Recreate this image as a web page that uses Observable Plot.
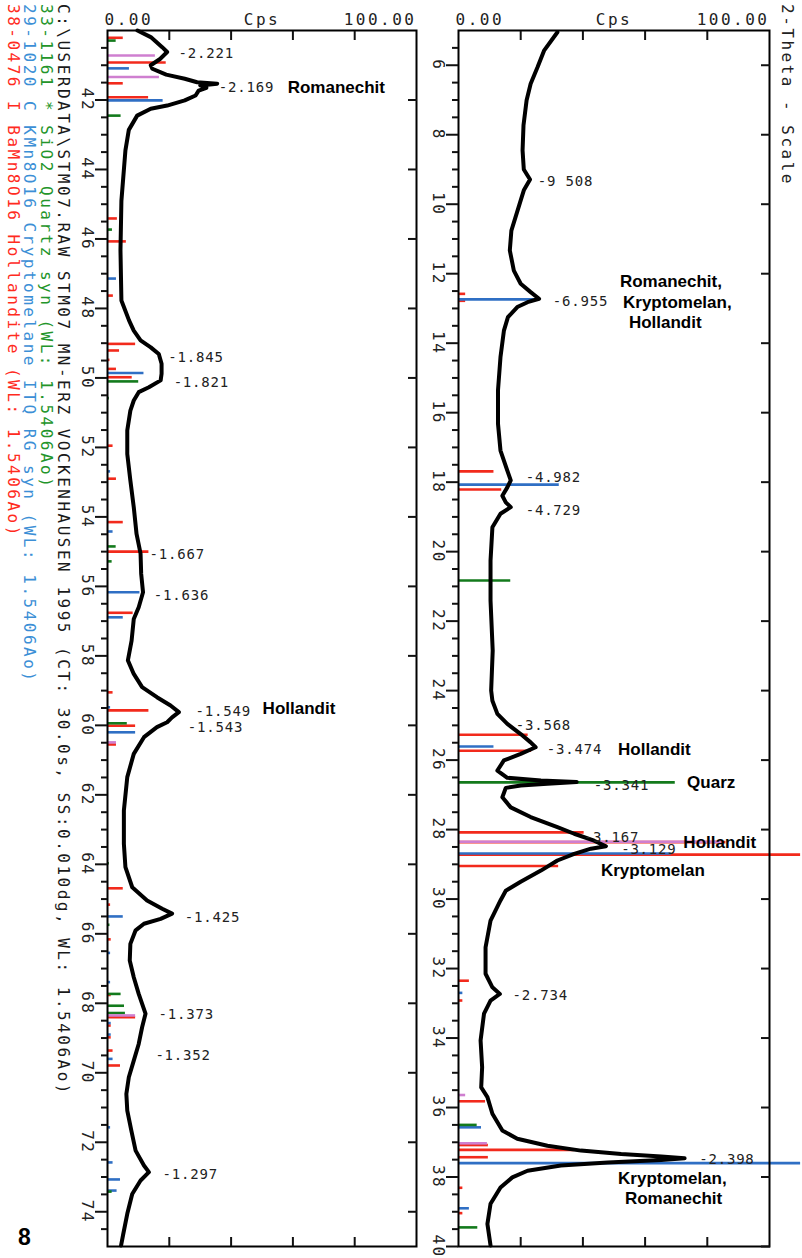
<!DOCTYPE html>
<html><head><meta charset="utf-8">
<script src="https://cdn.jsdelivr.net/npm/d3@7"></script>
<script src="https://cdn.jsdelivr.net/npm/@observablehq/plot@0.6"></script>
<style>
html,body{margin:0;padding:0;background:#fff;}
#wrap{position:relative;width:802px;height:1258px;overflow:hidden;background:#fff;}
#wrap svg text{letter-spacing:2.5px;}
#wrap g[font-size="14"] text{letter-spacing:0.8px;}
#wrap g[font-weight="bold"] text{letter-spacing:0;}
#wrap text.bold{letter-spacing:0;}
</style></head><body><div id="wrap"></div>
<script>
// ---------- diffractogram (2-Theta in degrees, intensity in Cps) ----------
const leftTheta = [40.00,40.19,40.48,40.62,40.82,41.00,41.10,41.27,41.39,41.49,41.53,41.58,41.65,41.73,41.87,42.01,42.16,42.25,42.45,42.86,43.45,44.90,46.33,47.77,48.35,48.64,48.92,49.12,49.31,49.59,49.88,50.07,50.27,50.41,50.65,50.94,51.51,52.19,52.95,53.72,54.49,55.06,55.64,56.17,56.60,56.94,57.56,58.13,58.52,58.90,59.19,59.43,59.62,59.77,59.91,60.05,60.34,60.82,61.49,62.45,63.41,64.08,64.66,65.04,65.28,65.42,65.57,65.71,65.90,66.29,66.77,67.25,67.73,68.30,68.69,69.17,69.65,70.13,70.61,71.09,71.66,72.24,72.67,72.86,73.10,73.49,74.06,74.64,74.97];
const leftCps   = [9.7,14,17.7,19.3,17,14,14.5,19,25,29,35.5,30,32,29.5,28.5,25,19.3,14,9.6,6.9,5.8,4.5,4.2,4.5,7,8.5,10.7,14,16.6,17.5,17.5,17.2,13.4,10.1,8.5,7.4,6.4,6.4,7.4,8.5,9.4,10.7,10.9,11.5,10.1,8.5,7.8,6.6,8.5,11.2,16,20.4,23.1,20.9,19.3,16,11.8,8.5,6.4,5.3,5.3,5.8,8,12.8,17.7,20.9,17.2,11.8,9.1,7.4,7.2,8.5,10.1,12.3,11.2,10.1,8.5,6.9,6.1,6.4,7.7,9.1,11.8,13.4,10.7,8,6.4,5.1,4.4];
const rightTheta = [5.05,5.58,6.06,6.53,7.01,7.73,8.45,9.00,9.29,9.60,9.89,10.76,11.33,11.91,12.29,12.53,12.72,12.82,12.96,13.25,13.64,14.40,15.36,16.32,17.09,17.67,17.95,18.15,18.39,18.58,18.72,18.91,19.30,20.26,21.41,22.85,24.00,24.29,24.67,24.96,25.25,25.49,25.63,25.82,26.01,26.30,26.51,26.59,26.63,26.68,26.73,26.80,27.07,27.36,27.64,27.93,28.12,28.32,28.48,28.55,28.70,28.89,29.18,29.50,29.76,30.04,30.62,31.39,32.15,32.54,32.73,32.92,33.30,34.07,34.84,35.42,35.70,36.18,36.66,36.90,37.10,37.24,37.34,37.41,37.46,37.51,37.58,37.67,37.82,38.01,38.30,38.77,39.35,39.97];
const rightCps   = [31.8,27.5,25.4,23.2,21.9,20.9,20.6,21,23,21,20,17,16.5,17.8,20,23.2,25.9,22.2,18.9,15.9,14.6,13.5,12.7,12.7,13.5,15.7,16.8,15.7,14.1,15.2,16.8,13.5,10.9,10.3,10.3,11,10.5,10.9,12.5,15.7,20,23.2,24.8,20,14.6,12.5,15.7,26.5,38,28.6,20,15.2,14.1,16.8,23.2,31.8,37.2,43.6,47.4,42.6,37.2,31.8,26.5,20,15.2,13.5,10.3,8.7,8.7,10.9,13.3,10.3,8.2,7.1,7.6,7.3,9.3,10.9,14.1,18.9,28.6,39.4,52.3,65.2,72.7,65.2,48,32.9,22.2,17.3,13.5,10.3,9.3,10.3];

// ---------- reference patterns (2-Theta, stick length in Cps) ----------
const hollanditeTheta = [40.21,40.92,41.52,41.92,45.41,46.07,47.63,49.02,49.21,49.48,49.74,49.98,51.95,52.90,54.15,55.00,56.76,59.05,59.57,60.01,60.55,64.69,65.16,66.16,67.76,68.40,68.64,68.98,69.36,69.79,
  12.58,12.78,17.69,18.21,25.27,25.73,28.08,28.36,28.72,29.05,32.35,32.92,35.82,37.08,37.22,37.43,38.31,39.04];
const hollanditeLen   = [5.1,19,5.1,13.3,3.2,6.1,1.9,9.1,3.9,0.8,2.9,8,1.8,2.9,5.1,13.4,8.3,1.8,13.4,9.1,2.9,5.1,1,1.2,1.2,9.1,1.2,1.2,1.8,4.2,
  2.3,2.3,11.4,13.9,22.4,23.5,40.4,86,110,32.2,3.5,1.4,8.7,9.6,37.2,9.6,1.4,1.4];
const cryptomelaneTheta = [41.09,42.01,47.14,49.86,52.69,54.42,56.17,56.89,59.48,60.20,65.50,66.55,67.39,68.57,68.90,69.60,71.57,72.58,73.07,73.39,
  12.74,18.07,25.61,28.69,32.70,36.57,37.60,38.90];
const cryptomelaneLen   = [7.1,18,2.9,11.8,1,1.8,10.5,5.1,1,9.1,5.1,1,1,1.2,1.2,1.8,1,1.8,4.2,3.1,
  25.9,32.4,11.4,68.4,1.4,7.4,110,3.5];
const quartzTheta = [40.29,42.45,45.73,50.10,50.58,54.85,55.28,59.94,63.97,65.74,67.73,68.07,68.28,73.42,
  20.83,26.64,36.50,39.45];
const quartzLen   = [2.8,4.4,1.6,10.1,0.6,2.8,1.5,6.4,0.6,0.8,4.4,5.5,5.8,1.5,
  16.8,69.7,6,6.2];
const otherTheta = [40.72,41.34,60.49,68.35,28.35,35.64,37.03];
const otherLen   = [15.5,16.8,2.9,9.1,85,2.3,9.3];

// ---------- peak d-spacing labels ----------
const peakD     = ["2.221","2.169","1.845","1.821","1.667","1.636","1.549","1.543","1.425","1.373","1.352","1.297",
                   "9 508","6.955","4.982","4.729","3.568","3.474","3.341","3.167","3.129","2.734","2.398"];
const peakTheta = [40.67,41.63,49.40,50.12,55.09,56.26,59.59,60.07,65.52,68.32,69.50,72.92,
                   9.35,12.81,17.87,18.82,25.00,25.70,26.72,28.22,28.58,32.79,37.51];
const peakCps   = [23,36,19.7,21.4,13.6,15,28.5,26,25,16.5,15.5,17.8,
                   25.5,30.3,21.6,21.6,18.4,28.4,43.5,40.3,52.3,17.4,77.4];

// ---------- mineral annotations ----------
const mineralText  = ["Romanechit","Hollandit","Romanechit,","Kryptomelan,","Hollandit","Hollandit","Quarz","Hollandit","Kryptomelan","Kryptomelan,","Romanechit"];
const mineralTheta = [41.63,59.52,12.24,12.83,13.42,25.70,26.65,28.37,29.18,38.03,38.62];
const mineralCps   = [58.3,50.2,51.9,52.9,54.8,51.3,73.5,72.3,45.8,51.3,53.5];

// ---------- axes & header ----------
const cpsTicks = [20,40,60,80];
const leftMajor = [42,44,46,48,50,52,54,56,58,60,62,64,66,68,70,72,74];
const rightMajor = [6,8,10,12,14,16,18,20,22,24,26,28,30,32,34,36,38,40];
const topLabels = ["0.00","Cps","100.00"];
const headerLines = [
  "C:\\USERDATA\\STM07.RAW STM07 MN-ERZ VOCKENHAUSEN 1995 (CT: 30.0s, SS:0.010dg, WL: 1.5406Ao)",
  "33-1161 * SiO2 Quartz syn (WL: 1.5406Ao)",
  "29-1020 C KMn8O16 Cryptomelane ITQ RG syn (WL: 1.5406Ao)",
  "38-0476 I BaMn8O16 Hollandite (WL: 1.5406Ao)"
];
const scaleTitle = "2-Theta - Scale";
const pageNumber = "8";

// ---------- styling ----------
const colors = {Hollandite: "#f22a1c", Cryptomelane: "#2f6fc4", Quartz: "#137a1c", Other: "#cf7fd0"};
const headerColors = ["#1a1a1a", "#23952a", "#3c8fd6", "#ff2b1e"];
const mono = "'DejaVu Sans Mono', monospace";
const boldFont = "'Liberation Sans', Arial, sans-serif";

const zip = (t, v) => t.map((d, i) => ({theta: d, v: v[i]}));
const sticks = {
  Hollandite: zip(hollanditeTheta, hollanditeLen),
  Cryptomelane: zip(cryptomelaneTheta, cryptomelaneLen),
  Quartz: zip(quartzTheta, quartzLen),
  Other: zip(otherTheta, otherLen)
};
const peaks = peakD.map((d, i) => ({d, theta: peakTheta[i], cps: peakCps[i]}));
const minerals = mineralText.map((t, i) => ({t, theta: mineralTheta[i], cps: mineralCps[i]}));

function panel({domain, curveT, curveC, majors, width, marginLeft, marginRight}) {
  const inD = d => d.theta >= domain[0] && d.theta <= domain[1];
  const minors = d3.range(domain[0] + 0.5, domain[1], 0.5).filter(t => t % 2 !== 0);
  const stickMarks = Object.keys(sticks).map(k =>
    Plot.ruleY(sticks[k].filter(inD), {y: "theta", x1: 0, x2: "v", stroke: colors[k], strokeWidth: 2.6}));
  return Plot.plot({
    width, height: 1258, marginTop: 30, marginBottom: 12, marginLeft, marginRight,
    x: {domain: [0, 100], axis: null},
    y: {domain, reverse: true, axis: null},
    style: {fontFamily: mono, fontSize: "16px", background: "transparent", overflow: "visible", color: "#111"},
    marks: [
      ...stickMarks,
      Plot.line(zip(curveT, curveC), {x: "v", y: "theta", stroke: "#000", strokeWidth: 4, strokeLinejoin: "round"}),
      Plot.frame({stroke: "#000", strokeWidth: 2}),
      Plot.axisX({anchor: "top", ticks: cpsTicks, tickSize: 9, dy: 9, tickFormat: () => "", label: null, strokeWidth: 2}),
      Plot.axisX({anchor: "bottom", ticks: cpsTicks, tickSize: 9, dy: -9, tickFormat: () => "", label: null, strokeWidth: 2}),
      Plot.axisY({anchor: "left", ticks: majors, tickSize: 12, tickRotate: 90, tickPadding: 2, label: null, fontSize: 16, strokeWidth: 2, fill: "#222"}),
      Plot.axisY({anchor: "left", ticks: minors, tickSize: 6, tickFormat: () => "", label: null, strokeWidth: 2}),
      Plot.axisY({anchor: "right", ticks: majors, tickSize: 9, dx: -9, tickFormat: () => "", label: null, strokeWidth: 2}),
      Plot.text([topLabels[0]], {x: 0, frameAnchor: "top", text: d => d, textAnchor: "start", lineAnchor: "bottom", dx: -3, dy: -6, fontSize: 16, fill: "#222"}),
      Plot.text([topLabels[1]], {x: 50, frameAnchor: "top", text: d => d, textAnchor: "middle", lineAnchor: "bottom", dy: -6, fontSize: 16, fill: "#222"}),
      Plot.text([topLabels[2]], {x: 100, frameAnchor: "top", text: d => d, textAnchor: "end", lineAnchor: "bottom", dy: -6, fontSize: 16, fill: "#222"}),
      Plot.text(peaks.filter(inD), {x: "cps", y: "theta", text: d => "-" + d.d, textAnchor: "start", lineAnchor: "middle", fontSize: 14, fill: "#222"}),
      Plot.text(minerals.filter(inD), {x: "cps", y: "theta", text: "t", textAnchor: "start", lineAnchor: "middle", fontSize: 17, fontWeight: "bold", fontFamily: boldFont, fill: "#000"})
    ]
  });
}

const wrap = document.getElementById("wrap");
const left = panel({domain: [40, 75], curveT: leftTheta, curveC: leftCps, majors: leftMajor, width: 420, marginLeft: 107, marginRight: 4});
const right = panel({domain: [5, 40], curveT: rightTheta, curveC: rightCps, majors: rightMajor, width: 382, marginLeft: 38, marginRight: 33});
[[left, 0], [right, 420]].forEach(([el, x]) => {
  el.style.position = "absolute"; el.style.left = x + "px"; el.style.top = "0px";
  wrap.appendChild(el);
});

// header (rotated legend), scale title and page number
const over = d3.select(wrap).append("svg")
  .attr("width", 802).attr("height", 1258)
  .style("position", "absolute").style("left", 0).style("top", 0).style("pointer-events", "none");
over.selectAll("text.hdr").data(headerLines).join("text").attr("class", "hdr")
  .attr("transform", (d, i) => `translate(${58 - 16.8 * i},4) rotate(90)`)
  .attr("font-family", mono).attr("font-size", 16)
  .attr("fill", (d, i) => headerColors[i])
  .text(d => d);
over.append("text")
  .attr("transform", "translate(782,4) rotate(90)")
  .attr("font-family", mono).attr("font-size", 16).attr("fill", "#222")
  .text(scaleTitle);
over.append("text").attr("class", "bold")
  .attr("x", 18).attr("y", 1245)
  .attr("font-family", boldFont).attr("font-weight", "bold").attr("font-size", 23).attr("fill", "#000")
  .text(pageNumber);
</script></body></html>
